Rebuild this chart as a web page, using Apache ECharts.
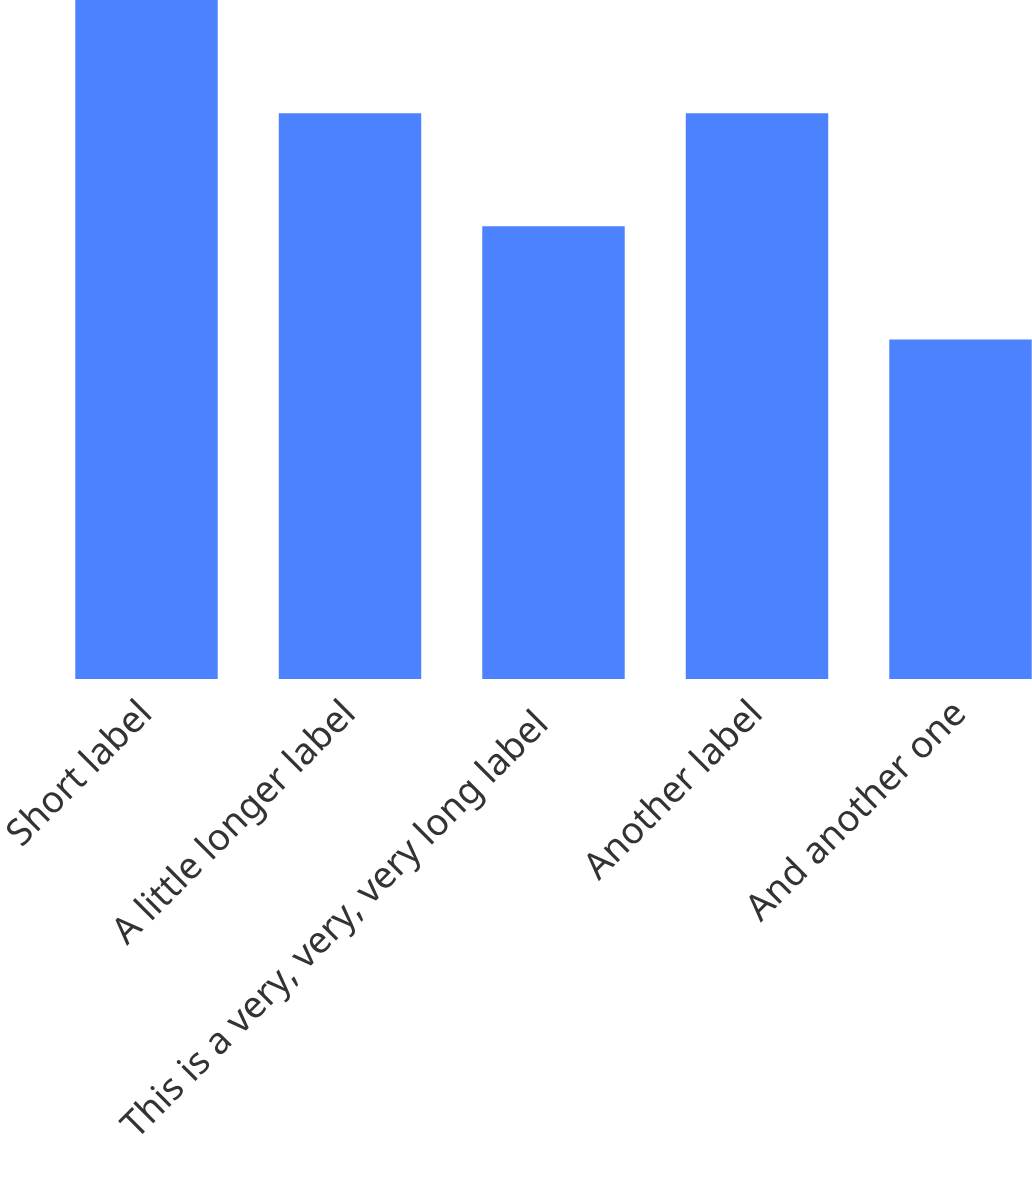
<!DOCTYPE html>
<html>
<head>
<meta charset="utf-8">
<script src="https://cdn.jsdelivr.net/npm/echarts@6/dist/echarts.min.js"></script>
<style>
html,body{margin:0;padding:0;background:#fff;}
#chart{width:1032px;height:1182px;}
</style>
</head>
<body>
<div id="chart"></div>
<script>
const categories = ["Short label", "A little longer label", "This is a very, very, very long label", "Another label", "And another one"];
const values = [6, 5, 4, 5, 3];

const chart = echarts.init(document.getElementById('chart'), null, {renderer: 'canvas'});
chart.setOption({
  animation: false,
  grid: {left: 44.75, top: 0, width: 1017.5, bottom: 503, containLabel: false, outerBoundsMode: 'none'},
  xAxis: {
    type: 'category',
    data: categories.map((c, i) => i === 2 ? {value: c, textStyle: {padding: [7, 15, 0, 0]}} : c),
    axisLine: {show: false},
    axisTick: {show: false},
    axisLabel: {
      rotate: 45,
      interval: 0,
      margin: 29,
      fontSize: 37,
      fontFamily: 'Noto Sans',
      color: '#333333'
    }
  },
  yAxis: {
    type: 'value',
    min: 0,
    max: 6,
    show: false,
    splitLine: {show: false}
  },
  series: [{
    type: 'bar',
    data: values,
    barCategoryGap: '30%',
    itemStyle: {color: '#4d82ff'}
  }]
});
</script>
</body>
</html>
